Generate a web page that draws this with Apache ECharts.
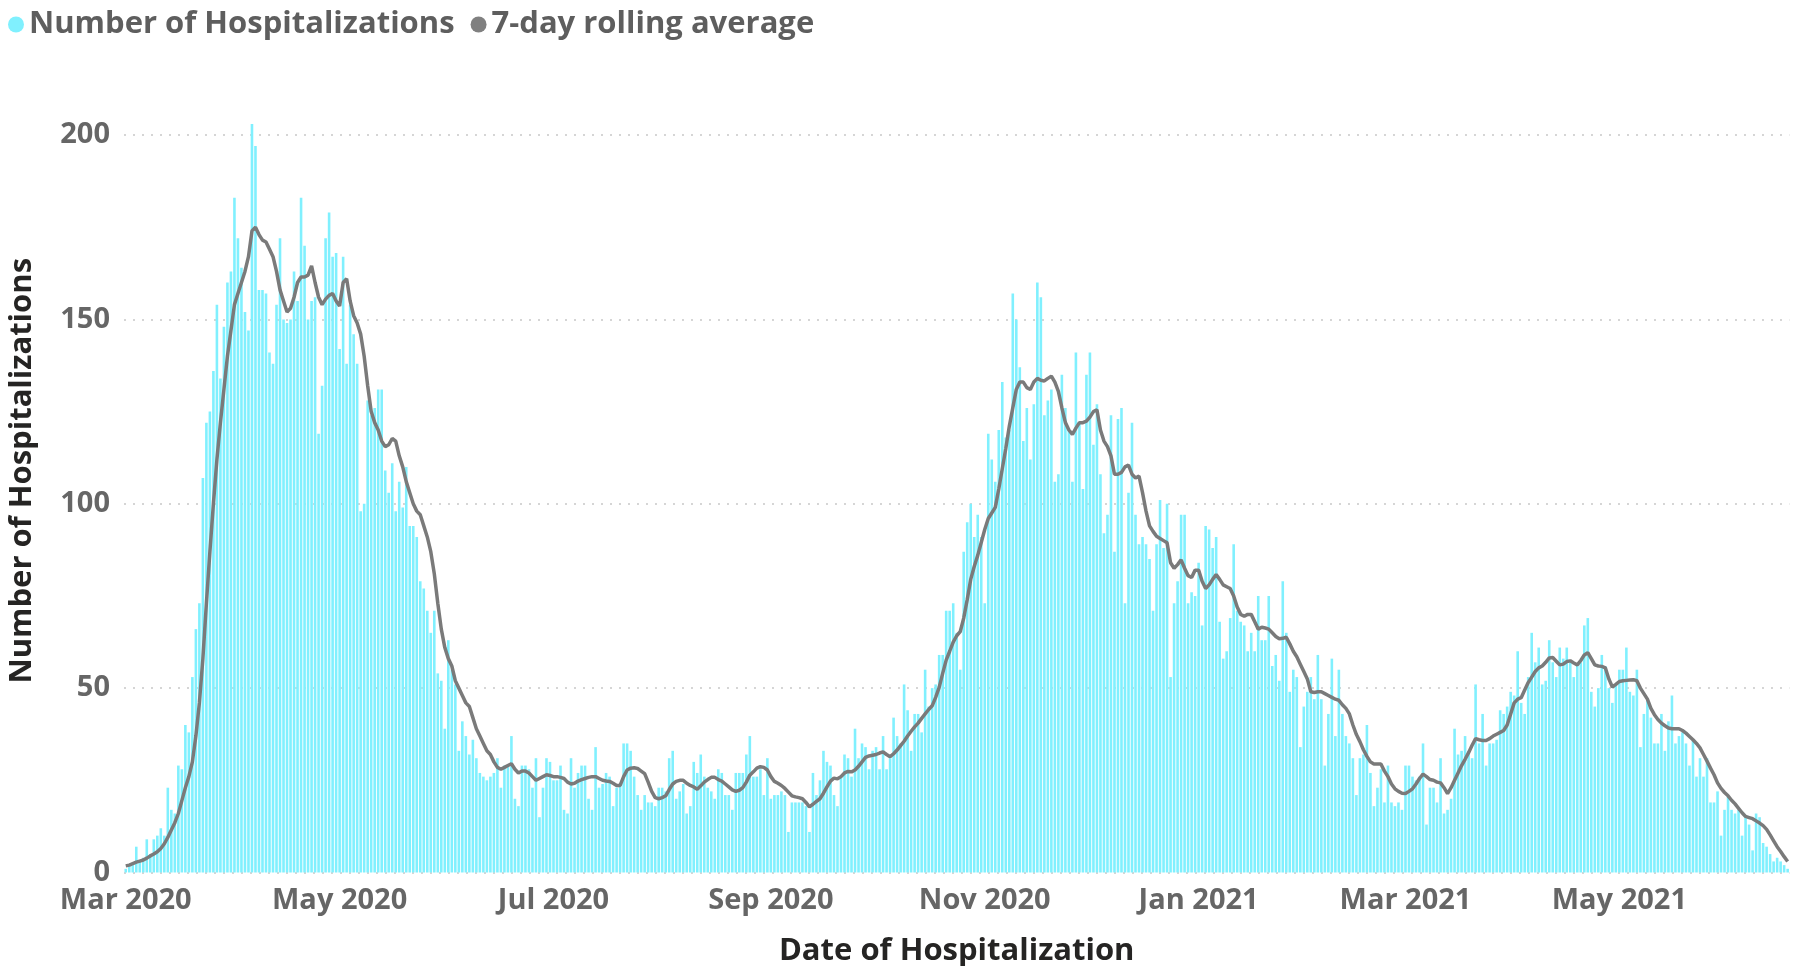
<!DOCTYPE html>
<html>
<head>
<meta charset="utf-8">
<script src="https://cdn.jsdelivr.net/npm/echarts/dist/echarts.min.js"></script>
<style>
html,body{margin:0;padding:0;background:#ffffff;}
#chart{width:1793px;height:966px;}
</style>
</head>
<body>
<div id="chart"></div>
<script>
// ---- data ----
const startYear = 2020, startMonth = 3, startDay = 1;   // first day of data: 1 Mar 2020
const dayCount = 475;                                   // through 18 Jun 2021
const monthNames = ['Jan','Feb','Mar','Apr','May','Jun','Jul','Aug','Sep','Oct','Nov','Dec'];
const labelMonths = [1, 3, 5, 7, 9, 11];                // Jan, Mar, May, Jul, Sep, Nov
const yTicks = [0, 50, 100, 150, 200];

const hospitalizations = [
  1, 2, 2, 7, 3, 4, 9, 5, 9, 10,
  12, 10, 23, 17, 16, 29, 28, 40, 38, 53,
  66, 73, 107, 122, 125, 136, 154, 134, 148, 160,
  163, 183, 172, 164, 152, 147, 203, 197, 158, 158,
  157, 141, 138, 154, 172, 150, 149, 150, 163, 155,
  183, 170, 150, 155, 156, 119, 132, 172, 179, 167,
  168, 142, 167, 138, 154, 146, 138, 98, 100, 128,
  124, 126, 131, 131, 109, 103, 111, 98, 106, 99,
  110, 94, 94, 91, 79, 77, 71, 65, 71, 54,
  52, 39, 63, 55, 51, 33, 41, 37, 32, 36,
  31, 27, 26, 25, 26, 27, 31, 23, 29, 29,
  37, 20, 18, 29, 29, 28, 23, 31, 15, 23,
  31, 30, 25, 25, 29, 17, 16, 31, 23, 27,
  29, 29, 20, 17, 34, 23, 24, 27, 26, 18,
  23, 24, 35, 35, 33, 26, 21, 17, 21, 19,
  19, 18, 23, 23, 22, 31, 33, 20, 22, 24,
  16, 18, 30, 27, 32, 26, 23, 22, 20, 28,
  27, 21, 21, 17, 27, 27, 27, 32, 37, 26,
  26, 28, 21, 31, 20, 21, 21, 22, 21, 11,
  19, 19, 19, 19, 18, 11, 27, 21, 25, 33,
  30, 29, 21, 18, 26, 32, 31, 26, 39, 31,
  35, 34, 28, 33, 34, 28, 37, 28, 31, 42,
  37, 35, 51, 44, 33, 43, 43, 38, 55, 45,
  50, 51, 59, 59, 71, 71, 73, 65, 55, 87,
  95, 100, 91, 97, 91, 73, 119, 112, 106, 120,
  133, 118, 120, 157, 150, 137, 117, 126, 112, 127,
  160, 156, 124, 128, 131, 106, 108, 135, 126, 120,
  106, 141, 122, 104, 135, 141, 116, 127, 108, 92,
  97, 124, 87, 123, 126, 73, 103, 122, 97, 89,
  91, 89, 85, 71, 89, 101, 88, 100, 53, 73,
  79, 97, 97, 73, 76, 75, 84, 67, 94, 93,
  88, 91, 68, 58, 60, 69, 89, 71, 68, 67,
  60, 65, 60, 75, 63, 63, 75, 56, 59, 52,
  79, 65, 49, 55, 53, 34, 45, 49, 53, 47,
  59, 47, 29, 43, 58, 37, 55, 43, 37, 35,
  31, 21, 31, 32, 40, 27, 18, 23, 28, 19,
  29, 19, 18, 19, 17, 29, 29, 26, 25, 26,
  35, 13, 23, 23, 19, 31, 16, 17, 20, 39,
  32, 33, 37, 33, 31, 51, 35, 43, 29, 35,
  35, 36, 44, 43, 45, 49, 48, 60, 46, 43,
  53, 65, 57, 61, 51, 52, 63, 57, 53, 61,
  58, 61, 57, 53, 56, 57, 67, 69, 49, 45,
  50, 59, 56, 50, 46, 51, 55, 55, 61, 49,
  48, 55, 34, 43, 47, 42, 35, 35, 43, 33,
  41, 48, 35, 37, 38, 35, 29, 36, 26, 31,
  26, 31, 19, 19, 22, 10, 17, 21, 17, 16,
  17, 10, 15, 13, 6, 16, 15, 8, 7, 5,
  3, 4, 3, 2, 1
];

const rollingAverage = [
  1.8, 2.0, 2.4, 2.8, 3.1, 3.4, 3.9, 4.5, 5.0, 5.6,
  6.5, 7.8, 9.5, 11.5, 13.5, 16, 19.5, 23, 26, 30,
  37, 46, 58, 73, 87, 100, 112, 122, 131, 140,
  147, 154, 157, 160, 163, 167, 174, 175, 173, 171.5,
  171, 169, 167, 163, 158, 155, 152, 153, 156, 160,
  161.5, 161.5, 162, 164.5, 160, 156, 154, 155.5, 156.5, 157,
  155, 153.6, 160, 161, 155, 151, 149, 146, 140, 132,
  125, 122, 120, 117, 115.5, 116, 117.7, 117, 113, 110,
  106, 103, 100, 98, 97, 94, 91, 87, 81, 73,
  66, 61, 58, 56, 52, 50, 48, 46, 45, 42,
  39, 37, 35, 33, 32, 30, 28.5, 28, 28.5, 29,
  29.5, 28, 27, 27.5, 27.5, 27, 26, 25, 25.5, 26,
  26.5, 26.3, 26, 26, 25.8, 25.5, 24.5, 24, 24.2, 24.8,
  25.2, 25.5, 25.8, 26, 26, 25.5, 25, 24.8, 24.7, 24.2,
  23.6, 23.6, 26, 27.8, 28.3, 28.4, 28.2, 27.5, 26.8, 24.5,
  22, 20.3, 20, 20.3, 20.8, 22.5, 24, 24.7, 25, 25,
  24.2, 23.6, 23.2, 22.6, 23.5, 24.5, 25.2, 25.8, 25.8, 25.2,
  24.8, 24, 23.2, 22.4, 22, 22.3, 23, 24.5, 26.4, 27.3,
  28.3, 28.7, 28.5, 27.8, 26, 24.7, 24.2, 23.6, 22.8, 21.8,
  20.8, 20.5, 20.3, 20, 19, 17.8, 18.5, 19.3, 20, 21.5,
  23.2, 24.8, 25.6, 25.4, 26, 27, 27.4, 27.3, 27.8, 28.8,
  30, 31.2, 31.6, 31.8, 32, 32.4, 32.7, 32, 31.4, 32.2,
  33.2, 34.4, 35.6, 37, 38.3, 39.5, 40.5, 41.8, 43, 44.2,
  45.2, 47.5, 50.2, 54, 57.6, 60, 62.5, 64.2, 65.3, 69,
  74, 79.5, 83, 86, 89.5, 93, 96, 97.5, 99, 104,
  109.5, 115, 121, 126, 131, 133, 133, 131.5, 131, 133,
  134, 133.5, 133.3, 134, 134.6, 133, 130.5, 126, 122, 120,
  118.8, 120.5, 122, 122, 122.4, 123.5, 125, 125.5, 120, 117,
  115.5, 113, 108, 108, 108.5, 110, 110.5, 108, 107, 107.5,
  103, 98, 94, 92.5, 91.2, 90.6, 90, 89.4, 84, 82.5,
  83.5, 84.8, 82.5, 80.5, 80, 82, 82, 79, 77, 78,
  79.5, 80.8, 79.5, 78, 77.5, 77, 75, 72, 70, 69.5,
  70, 70, 68, 66, 66.5, 66.3, 66, 65, 64, 63.4,
  63.5, 63.8, 62, 60, 58.5, 56.5, 54.5, 52.5, 49, 48.8,
  49, 49, 48.5, 48, 47.5, 47, 46.7, 45.5, 44.5, 43,
  40, 37.4, 35.5, 33.3, 31.5, 30, 29.4, 29.4, 29.4, 27.5,
  26, 24, 22.7, 22, 21.5, 21.4, 22, 22.7, 24, 25.5,
  26.7, 26, 25.2, 25, 24.5, 24.3, 23, 21.4, 23, 25,
  27, 29, 30.7, 32.5, 34.5, 36.3, 36, 35.8, 35.8, 36.3,
  37, 37.5, 38, 38.5, 40, 43, 46, 47, 47.4, 49.5,
  51.5, 53, 54.5, 55.5, 56, 57, 58.2, 58.3, 57.3, 56.3,
  56.5, 57.2, 57.4, 56.8, 56.3, 57.5, 59, 59.6, 58, 56.3,
  56, 55.9, 55.5, 52.5, 50.3, 51, 51.8, 52, 52.1, 52.2,
  52.3, 52, 50, 48.5, 47, 44.5, 42.8, 41.5, 40.5, 39.8,
  39.2, 39, 39, 39, 38.5, 37.8, 36.9, 36, 35, 33.8,
  32, 30.2, 28.3, 26.5, 24.3, 22.8, 21.7, 20.8, 19.6, 18.6,
  17.4, 16.2, 15.2, 14.9, 14.6, 14, 13.4, 12.7, 11.7, 10.2,
  8.6, 7, 5.7, 4.3, 3
];

// ---- categories: one per day ----
const dates = [];
for (let i = 0; i < dayCount; i++) {
  const d = new Date(Date.UTC(startYear, startMonth - 1, startDay + i));
  dates.push(d.toISOString().slice(0, 10));
}

const FONT = '"Open Sans", "Noto Sans", sans-serif';
const chart = echarts.init(document.getElementById('chart'), null, {renderer: 'canvas'});

chart.setOption({
  animation: false,
  backgroundColor: '#ffffff',
  textStyle: {fontFamily: FONT},
  legend: {
    show: true,
    left: 8,
    top: 9,
    itemWidth: 16,
    itemHeight: 16,
    itemGap: 16,
    padding: 0,
    textStyle: {fontFamily: FONT, fontSize: 31, fontWeight: 'bold', color: '#5E5E5E'},
    data: [
      {name: 'Number of Hospitalizations', icon: 'circle'},
      {name: '7-day rolling average', icon: 'circle'}
    ]
  },
  grid: {left: 124, right: 3.6, top: 135, bottom: 93.5, containLabel: false, outerBoundsMode: 'none'},
  xAxis: {
    type: 'category',
    data: dates,
    boundaryGap: true,
    name: 'Date of Hospitalization',
    nameLocation: 'middle',
    nameGap: 63,
    nameTextStyle: {fontFamily: FONT, fontSize: 31, fontWeight: 'bold', color: '#252423'},
    axisLine: {show: false},
    axisTick: {show: false},
    splitLine: {show: false},
    axisLabel: {
      show: true,
      margin: 14,
      hideOverlap: false,
      fontFamily: FONT, fontSize: 29, fontWeight: 'bold', color: '#666666',
      interval: function (index, value) {
        const m = parseInt(value.slice(5, 7), 10);
        return value.slice(8, 10) === '01' && labelMonths.indexOf(m) >= 0;
      },
      formatter: function (value) {
        const m = parseInt(value.slice(5, 7), 10);
        return monthNames[m - 1] + ' ' + value.slice(0, 4);
      }
    }
  },
  yAxis: {
    type: 'value',
    min: yTicks[0],
    max: yTicks[yTicks.length - 1],
    interval: yTicks[1] - yTicks[0],
    name: 'Number of Hospitalizations',
    nameLocation: 'middle',
    nameGap: 86,
    nameTextStyle: {fontFamily: FONT, fontSize: 31, fontWeight: 'bold', color: '#252423', padding: [0, 0, 0, 66]},
    axisLine: {show: false},
    axisTick: {show: false},
    axisLabel: {margin: 14, fontFamily: FONT, fontSize: 29, fontWeight: 'bold', color: '#666666'},
    splitLine: {
      show: true,
      lineStyle: {color: '#c8c8c8', width: 1.5, type: [2, 7]}
    }
  },
  series: [
    {
      name: 'Number of Hospitalizations',
      type: 'bar',
      data: hospitalizations,
      barCategoryGap: '26%',
      clip: false,
      itemStyle: {color: '#80F0FE'},
      emphasis: {disabled: true},
      z: 2
    },
    {
      name: '7-day rolling average',
      type: 'line',
      data: rollingAverage,
      showSymbol: false,
      symbol: 'none',
      smooth: false,
      clip: false,
      itemStyle: {color: '#808080'},
      lineStyle: {color: '#7A7A7A', width: 3.5},
      emphasis: {disabled: true},
      z: 3
    }
  ]
});
</script>
</body>
</html>
